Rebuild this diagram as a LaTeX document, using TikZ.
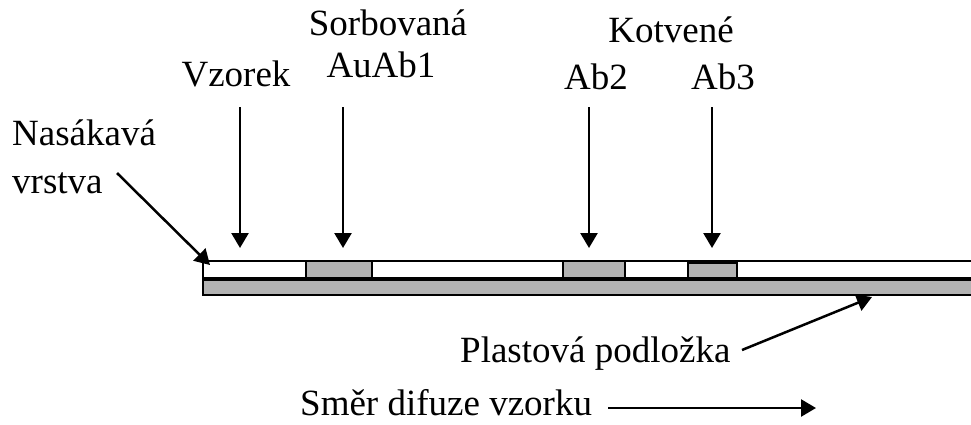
\documentclass[tikz,border=0pt]{standalone}
\usepackage{fontspec}
\setmainfont{Liberation Serif}
\usetikzlibrary{arrows.meta}
\begin{document}
\begin{tikzpicture}[x=1pt,y=-1pt,
  lbl/.style={font=\fontsize{37}{44}\selectfont, inner sep=0pt, anchor=base},
  ptr/.style={line width=2.5pt, -{Triangle[length=15pt,width=17pt]}},
  pad/.style={fill=black!30, draw=black, line width=2pt}]
\useasboundingbox (0,0) rectangle (971,424);
\clip (0,0) rectangle (971,424);

% absorbent layer and plastic backing
\draw[line width=2pt, fill=white] (203,261) rectangle (990,279);
\draw[line width=1.5pt, fill=black!30] (203,279) rectangle (990,295);
\draw[line width=3.5pt] (202,279) -- (990,279);

% antibody zones
\draw[pad] (306,261) rectangle (372,278);
\draw[pad] (563,261) rectangle (625,278);
\draw[pad] (688,263) rectangle (737,278);

% labels
\node[lbl] (vzorek) at (236,86) {Vzorek};
\node[lbl] (sorb) at (388,35) {Sorbovaná};
\node[lbl] (auab) at (381,77) {AuAb1};
\node[lbl] (kotv) at (671,42) {Kotvené};
\node[lbl] (ab2) at (596,89) {Ab2};
\node[lbl] (ab3) at (723,89) {Ab3};
\node[lbl, anchor=base west] (nas) at (12,145) {Nasákavá};
\node[lbl, anchor=base west] (vrs) at (12,193) {vrstva};
\node[lbl, anchor=base west] (plast) at (460,362) {Plastová podložka};
\node[lbl, anchor=base west] (smer) at (300,415) {Směr difuze vzorku};

% arrow end points
\coordinate (v0) at (240,107);  \coordinate (v1) at (240,248);
\coordinate (s0) at (343,107);  \coordinate (s1) at (343,248);
\coordinate (a0) at (589,107);  \coordinate (a1) at (589,248);
\coordinate (b0) at (712,107);  \coordinate (b1) at (712,248);
\coordinate (n0) at (117,173);  \coordinate (n1) at (210,265);
\coordinate (p0) at (742,350);  \coordinate (p1) at (872,297);
\coordinate (d0) at (608,408);  \coordinate (d1) at (816,408);

\draw[ptr] (v0) -- (v1);
\draw[ptr] (s0) -- (s1);
\draw[ptr] (a0) -- (a1);
\draw[ptr] (b0) -- (b1);
\draw[ptr] (n0) -- (n1);
\draw[ptr] (p0) -- (p1);
\draw[ptr] (d0) -- (d1);
\end{tikzpicture}
\end{document}
